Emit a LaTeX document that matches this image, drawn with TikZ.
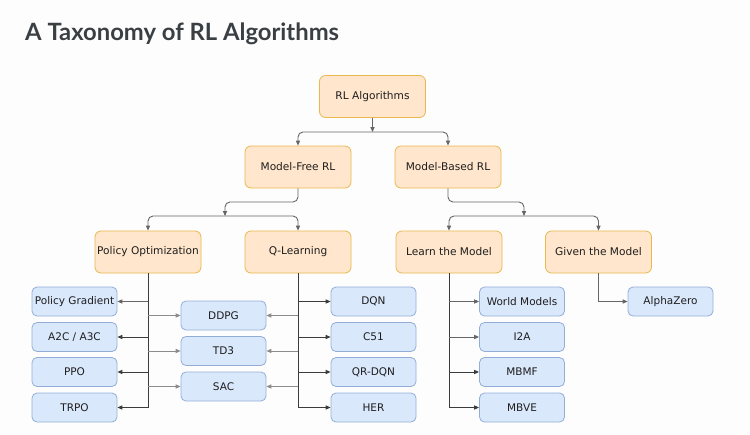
\documentclass[tikz,border=0pt]{standalone}
\usepackage{fontspec}
\setmainfont{DejaVu Sans}
\newfontfamily\titlefont{Lato}
\usetikzlibrary{arrows.meta,calc}
\definecolor{ofill}{HTML}{FFE6CC}
\definecolor{odraw}{HTML}{E9B84F}
\definecolor{bfill}{HTML}{DAE8FC}
\definecolor{bdraw}{HTML}{92AED8}
\definecolor{dline}{HTML}{3C3C3C}
\definecolor{mline}{HTML}{666666}
\definecolor{lline}{HTML}{8C8C8C}
\definecolor{titlecol}{HTML}{3A3F44}
\definecolor{txt}{HTML}{1E1E1E}
\definecolor{bg}{HTML}{FDFDFD}
\begin{document}
\begin{tikzpicture}[x=1pt,y=-1pt,
  obox/.style={draw=odraw, fill=ofill, rounded corners=6pt, minimum width=106pt, minimum height=42pt, inner sep=0pt, line width=0.8pt, text=txt, font=\fontsize{10.6}{13}\selectfont},
  bbox/.style={draw=bdraw, fill=bfill, rounded corners=5pt, minimum width=85pt, minimum height=29pt, inner sep=0pt, line width=0.8pt, text=txt, font=\fontsize{10.5}{13}\selectfont},
  arr/.style={-{Triangle[length=5pt,width=4.2pt]}, line width=0.9pt},
  trunk/.style={arr, draw=dline},
  midl/.style={arr, draw=mline},
  lightl/.style={arr, draw=lline},
  tree/.style={arr, draw=mline, rounded corners=5pt}
]
\fill[bg] (0,0) rectangle (750,434);
\useasboundingbox (0,0) rectangle (750,434);

\node[anchor=base west, text=titlecol, font=\titlefont\bfseries\fontsize{23.8}{28}\selectfont, inner sep=0pt] (title) at (25,40) {A Taxonomy of RL Algorithms};

% orange nodes
\node[obox] (rl) at (372.5,96.5) {RL Algorithms};
\node[obox] (mf) at (298,167) {Model-Free RL};
\node[obox] (mb) at (448,167) {Model-Based RL};
\node[obox] (po) at (148,252) {Policy Optimization};
\node[obox] (ql) at (298,252) {Q-Learning};
\node[obox] (lm) at (449,252) {Learn the Model};
\node[obox] (gm) at (598.5,252) {Given the Model};

% blue nodes
\node[bbox] (pg)   at (74.5,301.5) {Policy Gradient};
\node[bbox] (a2c)  at (74.5,337)   {A2C / A3C};
\node[bbox] (ppo)  at (74.5,372)   {PPO};
\node[bbox] (trpo) at (74.5,407.5) {TRPO};
\node[bbox] (ddpg) at (223.5,315.5) {DDPG};
\node[bbox] (td3)  at (223.5,351)  {TD3};
\node[bbox] (sac)  at (223.5,386.5) {SAC};
\node[bbox] (dqn)  at (373.5,301.5) {DQN};
\node[bbox] (c51)  at (373.5,337)   {C51};
\node[bbox] (qr)   at (373.5,372)   {QR-DQN};
\node[bbox] (her)  at (373.5,407.5) {HER};
\node[bbox] (wm)   at (522,301.5) {World Models};
\node[bbox] (i2a)  at (522,337)   {I2A};
\node[bbox] (mbmf) at (522,372)   {MBMF};
\node[bbox] (mbve) at (522,407.5) {MBVE};
\node[bbox] (az)   at (670.5,301.5) {AlphaZero};

% top tree
\coordinate (j1) at (372.5,132);
\draw[midl] (rl.south) -- (j1);
\draw[tree] (j1) -| (mf.north);
\draw[tree] (j1) -| (mb.north);

\coordinate (k2) at (298,202);
\coordinate (j2) at (225,216);
\draw[tree] (mf.south) -- (k2) -| (j2);
\draw[tree] (j2) -| (po.north);
\draw[tree] (j2) -| (ql.north);

\coordinate (k3) at (448,202);
\coordinate (j3) at (524,216);
\draw[tree] (mb.south) -- (k3) -| (j3);
\draw[tree] (j3) -| (lm.north);
\draw[tree] (j3) -| (gm.north);

% policy optimization
\draw[trunk] (po.south) |- (trpo.east);
\draw[midl] (po.south |- pg.east) -- (pg.east);
\draw[trunk] (po.south |- a2c.east) -- (a2c.east);
\draw[trunk] (po.south |- ppo.east) -- (ppo.east);
\draw[lightl] (po.south |- ddpg.west) -- (ddpg.west);
\draw[lightl] (po.south |- td3.west) -- (td3.west);
\draw[lightl] (po.south |- sac.west) -- (sac.west);

% q-learning
\draw[trunk] (ql.south) |- (her.west);
\draw[trunk] (ql.south |- dqn.west) -- (dqn.west);
\draw[trunk] (ql.south |- c51.west) -- (c51.west);
\draw[trunk] (ql.south |- qr.west) -- (qr.west);
\draw[lightl] (ql.south |- ddpg.east) -- (ddpg.east);
\draw[lightl] (ql.south |- td3.east) -- (td3.east);
\draw[lightl] (ql.south |- sac.east) -- (sac.east);

% learn the model
\draw[trunk] (lm.south) |- (mbve.west);
\draw[midl] (lm.south |- wm.west) -- (wm.west);
\draw[midl] (lm.south |- i2a.west) -- (i2a.west);
\draw[trunk] (lm.south |- mbmf.west) -- (mbmf.west);

% given the model
\draw[midl] (gm.south) |- (az.west);
\end{tikzpicture}
\end{document}
